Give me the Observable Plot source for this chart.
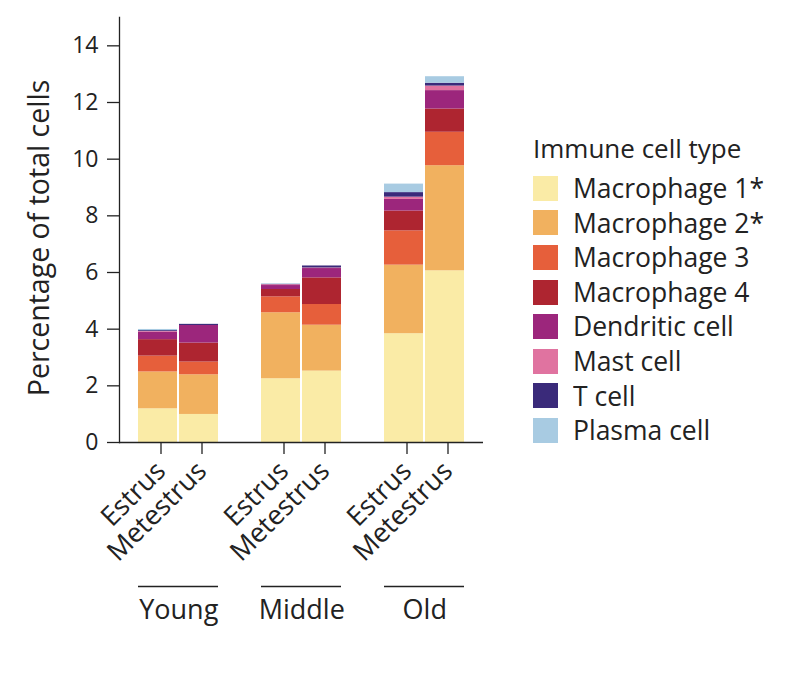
<!DOCTYPE html>
<html>
<head>
<meta charset="utf-8">
<script src="https://cdn.jsdelivr.net/npm/d3@7"></script>
<script src="https://cdn.jsdelivr.net/npm/@observablehq/plot@0.6"></script>
<style>
  body { margin: 0; background: #fff; font-family: "Open Sans", sans-serif; }
  #wrap { position: relative; width: 794px; height: 675px; }
  #legend { position: absolute; left: 533px; top: 131px; color: #222; }
  #legend .title { font-size: 26px; line-height: 34px; margin-bottom: 6px; white-space: nowrap; }
  .leg-swatch { padding-bottom: 0 !important; height: 34.6px; }
  .leg-swatch > svg { margin-right: 15px !important; }
  .leg-swatch-label { line-height: 34.6px; }
  .leg-swatches { margin: 0 !important; }
  g[aria-label="y-axis tick label"], g[aria-label="y-axis tick label"] text { font-size: 23px !important; }
  g[aria-label="y-axis label"], g[aria-label="y-axis label"] text { font-size: 28.5px !important; }
  g[aria-label="x-axis tick label"], g[aria-label="x-axis tick label"] text { font-size: 27px !important; }
  g[aria-label="text"], g[aria-label="text"] text { font-size: 27px !important; }
</style>
</head>
<body>
<div id="wrap">
  <div id="chart"></div>
  <div id="legend"></div>
</div>
<script>
const groups = ["Young", "Middle", "Old"];
const stages = ["Estrus", "Metestrus"];
const cellTypes = ["Macrophage 1*", "Macrophage 2*", "Macrophage 3", "Macrophage 4", "Dendritic cell", "Mast cell", "T cell", "Plasma cell"];
const colors = ["#FAEBA6", "#F1B15F", "#E65F3B", "#AE2530", "#9C267C", "#E073A0", "#3A2A7A", "#A8CBE2"];
const yTicks = [0, 2, 4, 6, 8, 10, 12, 14];
// values in order: Young Estrus, Young Metestrus, Middle Estrus, Middle Metestrus, Old Estrus, Old Metestrus
const macrophage1 = [1.19, 0.99, 2.25, 2.52, 3.84, 6.06];
const macrophage2 = [1.30, 1.40, 2.33, 1.62, 2.42, 3.71];
const macrophage3 = [0.56, 0.45, 0.56, 0.73, 1.21, 1.18];
const macrophage4 = [0.58, 0.67, 0.26, 0.94, 0.70, 0.82];
const dendritic   = [0.27, 0.62, 0.14, 0.33, 0.41, 0.65];
const mast        = [0.02, 0.00, 0.03, 0.02, 0.08, 0.16];
const tcell       = [0.03, 0.04, 0.01, 0.07, 0.16, 0.10];
const plasma      = [0.04, 0.00, 0.02, 0.00, 0.30, 0.23];
const seriesValues = [macrophage1, macrophage2, macrophage3, macrophage4, dendritic, mast, tcell, plasma];

const barKeys = groups.flatMap(g => stages.map(s => g + " " + s));
const xDomain = groups.flatMap((g, i) => [...stages.map(s => g + " " + s), ...(i < groups.length - 1 ? ["gap" + i] : [])]);

const data = [];
cellTypes.forEach((t, ti) => {
  barKeys.forEach((k, ki) => data.push({key: k, type: t, value: seriesValues[ti][ki]}));
});

const font = "Open Sans, sans-serif";
const W = 794, H = 660, mL = 119, mR = 311, mT = 17, mB = 218;
const xOpts = {type: "band", domain: xDomain, range: [mL, W - mR], paddingInner: 0.048, paddingOuter: 0.41, align: 0.5};
const xs = Plot.scale({x: xOpts});
const step = xs.step ?? (xs.bandwidth / (1 - 0.048));

const chart = Plot.plot({
  width: W, height: H,
  marginLeft: mL, marginRight: mR, marginTop: mT, marginBottom: mB,
  style: {fontFamily: font, color: "#222", background: "#fff", overflow: "visible"},
  x: {...xOpts, axis: null},
  y: {domain: [0, 15], axis: null},
  color: {domain: cellTypes, range: colors},
  marks: [
    Plot.barY(data, {x: "key", y: "value", fill: "type"}),
    Plot.ruleY([0], {stroke: "#222", strokeWidth: 1.3}),
    Plot.frame({anchor: "left", stroke: "#222", strokeWidth: 1.3}),
    Plot.axisY(yTicks, {tickSize: 12, tickPadding: 9, fontSize: 23, stroke: "#222", strokeWidth: 1.3,
      label: "Percentage of total cells", labelAnchor: "center", labelArrow: "none", labelOffset: 91}),
    Plot.axisX(barKeys, {tickSize: 12, tickPadding: 12, tickRotate: -45, fontSize: 27, dx: 3,
      tickFormat: k => k.split(" ")[1], stroke: "#222", strokeWidth: 1.3, label: null}),
    Plot.ruleY(groups, {x1: g => g + " Estrus", x2: g => g + " Metestrus", y: () => 0, dy: 144, stroke: "#222", strokeWidth: 1.3}),
    Plot.text(groups, {x: g => g + " Estrus", y: () => 0, text: g => g, dx: step / 2, dy: 168, fontSize: 27, fill: "#222", lineAnchor: "middle"})
  ]
});
// nudge the y-axis title slightly downward, as in the reference
const yLabel = chart.querySelector('g[aria-label="y-axis label"]');
if (yLabel) {
  const t = yLabel.getAttribute("transform") || "";
  yLabel.setAttribute("transform", (t + " translate(0,8)").trim());
}
document.getElementById("chart").appendChild(chart);

const legendDiv = document.getElementById("legend");
const title = document.createElement("div");
title.className = "title";
title.textContent = "Immune cell type";
legendDiv.appendChild(title);
legendDiv.appendChild(Plot.legend({
  color: {domain: cellTypes, range: colors},
  legend: "swatches", columns: 1, swatchSize: 25, className: "leg",
  style: {fontSize: "26.5px", fontFamily: font, color: "#222"}
}));
</script>
</body>
</html>
